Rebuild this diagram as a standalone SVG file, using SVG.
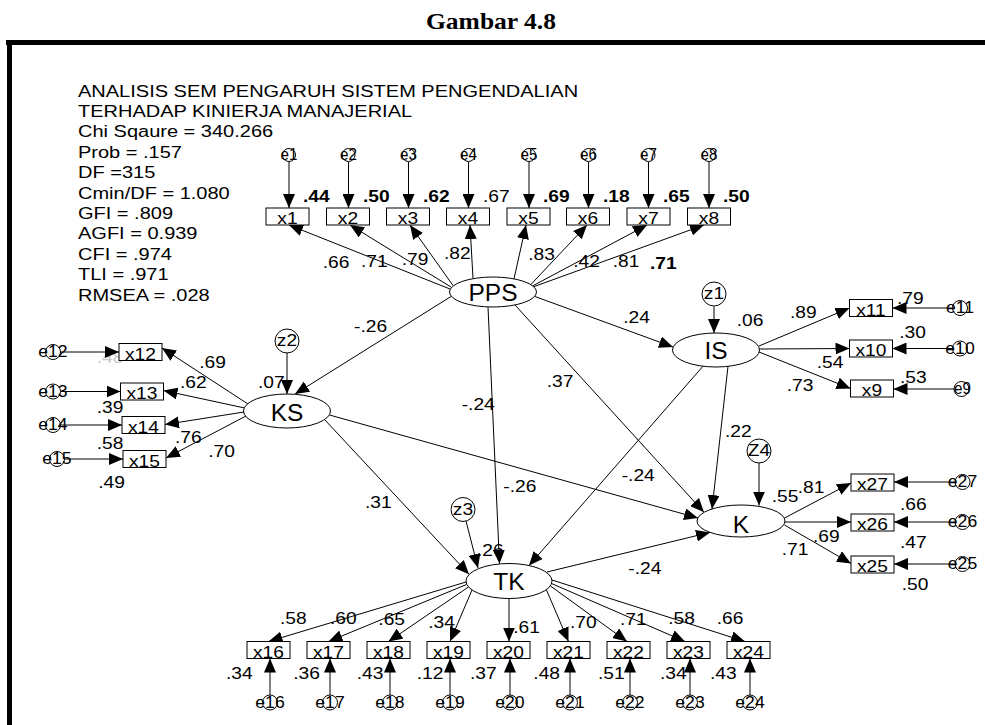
<svg xmlns="http://www.w3.org/2000/svg" width="985" height="725" viewBox="0 0 985 725">
<defs>
<marker id="ah" viewBox="0 0 14 12" refX="14" refY="6" markerWidth="14" markerHeight="12" orient="auto" markerUnits="userSpaceOnUse"><path d="M0,0 L14,6 L0,12 Z" fill="#000"/></marker>
<style>
text{font-family:"Liberation Sans",Arial,sans-serif;font-size:16px;fill:#000}
.l{transform-box:fill-box;transform-origin:left center;transform:scaleX(1.2)}
.c{text-anchor:middle;transform-box:fill-box;transform-origin:center;transform:scaleX(1.2)}
.ec{text-anchor:middle;transform-box:fill-box;transform-origin:center;transform:scaleX(0.95)}
.ec2{text-anchor:middle;transform-box:fill-box;transform-origin:center;transform:scaleX(1.1)}
.st{transform-box:fill-box;transform-origin:left center;transform:scaleX(1.25)}
.b{font-weight:bold}
.g{fill:#c8c8c8}
.nl{font-size:24.5px;text-anchor:middle}
.title{font-family:"Liberation Serif","Times New Roman",serif;font-size:24px;font-weight:bold;text-anchor:middle}
.cn line{stroke:#000;stroke-width:1;marker-end:url(#ah)}
ellipse,rect.v,circle{fill:#fff;stroke:#000;stroke-width:1}
</style>
</defs>
<rect width="985" height="725" fill="#fff"/>
<text class="title" x="491" y="29" textLength="130" lengthAdjust="spacingAndGlyphs">Gambar 4.8</text>
<path d="M6,42.5 H985 M9.5,40 V725" stroke="#000" stroke-width="5" fill="none"/>

<g id="stats">
<text class="st" x="78" y="96.7">ANALISIS SEM PENGARUH SISTEM PENGENDALIAN</text>
<text class="st" x="78" y="117.1">TERHADAP KINIERJA MANAJERIAL</text>
<text class="st" x="78" y="137.5">Chi Sqaure = 340.266</text>
<text class="st" x="78" y="157.9">Prob = .157</text>
<text class="st" x="78" y="178.3">DF =315</text>
<text class="st" x="78" y="198.7">Cmin/DF = 1.080</text>
<text class="st" x="78" y="219.1">GFI = .809</text>
<text class="st" x="78" y="239.5">AGFI = 0.939</text>
<text class="st" x="78" y="259.9">CFI = .974</text>
<text class="st" x="78" y="280.3">TLI = .971</text>
<text class="st" x="78" y="300.7">RMSEA = .028</text>
</g>

<g id="labels">
<text class="l b" x="303" y="202.5">.44</text>
<text class="l b" x="363" y="202.5">.50</text>
<text class="l b" x="423" y="202.5">.62</text>
<text class="l" x="483" y="202.5">.67</text>
<text class="l b" x="543" y="202.5">.69</text>
<text class="l b" x="603" y="202.5">.18</text>
<text class="l b" x="663" y="202.5">.65</text>
<text class="l b" x="723" y="202.5">.50</text>
<text class="l" x="322.7" y="268.3">.66</text>
<text class="l" x="361" y="267.3">.71</text>
<text class="l" x="401.7" y="265">.79</text>
<text class="l" x="444" y="259.3">.82</text>
<text class="l" x="528.3" y="260">.83</text>
<text class="l" x="573.3" y="267.3">.42</text>
<text class="l" x="612.7" y="267.3">.81</text>
<text class="l b" x="650" y="269.3">.71</text>
<text class="l" x="354" y="331.7">-.26</text>
<text class="l" x="623.3" y="322.7">.24</text>
<text class="l" x="546.7" y="387.3">.37</text>
<text class="l" x="461.7" y="410">-.24</text>
<text class="l" x="621.7" y="480.7">-.24</text>
<text class="l" x="503.3" y="492.3">-.26</text>
<text class="l" x="365" y="508.3">.31</text>
<text class="l" x="725" y="436.7">.22</text>
<text class="l" x="628.3" y="574">-.24</text>
<text class="l" x="736.7" y="325.7">.06</text>
<text class="l" x="258" y="388.3">.07</text>
<text class="l" x="477" y="556.5">.26</text>
<text class="l" x="771.7" y="501.7">.55</text>
<text class="l" x="790" y="318.3">.89</text>
<text class="l" x="897" y="304">.79</text>
<text class="l" x="899.3" y="338.3">.30</text>
<text class="l" x="816.7" y="368.3">.54</text>
<text class="l" x="786.7" y="390.7">.73</text>
<text class="l" x="900" y="382.7">.53</text>
<text class="l" x="199.3" y="367.7">.69</text>
<text class="l" x="180" y="388.3">.62</text>
<text class="l" x="96.7" y="412.7">.39</text>
<text class="l" x="96.7" y="449.3">.58</text>
<text class="l" x="175" y="443.3">.76</text>
<text class="l" x="208.3" y="456.7">.70</text>
<text class="l" x="98.3" y="488.3">.49</text>
<text class="l g" x="96.7" y="363.3">.48</text>
<text class="l" x="797.7" y="493.3">.81</text>
<text class="l" x="900" y="510">.66</text>
<text class="l" x="813" y="541.7">.69</text>
<text class="l" x="900" y="548.3">.47</text>
<text class="l" x="781.7" y="555">.71</text>
<text class="l" x="901.7" y="590">.50</text>
<text class="l" x="280" y="624">.58</text>
<text class="l" x="330" y="624">.60</text>
<text class="l" x="378.3" y="625">.65</text>
<text class="l" x="428.3" y="628.3">.34</text>
<text class="l" x="513.3" y="632.7">.61</text>
<text class="l" x="570" y="628.3">.70</text>
<text class="l" x="620" y="625">.71</text>
<text class="l" x="668.3" y="624">.58</text>
<text class="l" x="716.7" y="624">.66</text>
<text class="l" x="226" y="679.3">.34</text>
<text class="l" x="293.3" y="679.3">.36</text>
<text class="l" x="356.7" y="679.3">.43</text>
<text class="l" x="416.7" y="679.3">.12</text>
<text class="l" x="470" y="679.3">.37</text>
<text class="l" x="533.3" y="679.3">.48</text>
<text class="l" x="598" y="679.3">.51</text>
<text class="l" x="660" y="679.3">.34</text>
<text class="l" x="710" y="679.3">.43</text>
</g>

<g id="connectors" class="cn">
<line x1="289" y1="162" x2="289" y2="208"/>
<line x1="348.5" y1="162" x2="348.5" y2="208"/>
<line x1="408.5" y1="162" x2="408.5" y2="208"/>
<line x1="468.5" y1="162" x2="468.5" y2="208"/>
<line x1="529" y1="162" x2="529" y2="208"/>
<line x1="588.5" y1="162" x2="588.5" y2="208"/>
<line x1="648.5" y1="162" x2="648.5" y2="208"/>
<line x1="709" y1="162" x2="709" y2="208"/>
<line x1="450" y1="289" x2="289" y2="225"/>
<line x1="451" y1="287" x2="350" y2="225"/>
<line x1="453" y1="285.5" x2="410" y2="225"/>
<line x1="473" y1="278.5" x2="470" y2="225"/>
<line x1="514" y1="278.8" x2="526" y2="225"/>
<line x1="531" y1="284.4" x2="587" y2="225"/>
<line x1="533" y1="285.7" x2="647" y2="225"/>
<line x1="534" y1="286.6" x2="704" y2="225"/>
<line x1="451" y1="296.5" x2="295" y2="394"/>
<line x1="535" y1="296.5" x2="673" y2="347"/>
<line x1="488" y1="307" x2="499.5" y2="563.8"/>
<line x1="515" y1="305" x2="704" y2="512.3"/>
<line x1="728" y1="366.3" x2="712" y2="509"/>
<line x1="703" y1="366.2" x2="529" y2="565.5"/>
<line x1="324.5" y1="419.5" x2="469" y2="574.3"/>
<line x1="329.5" y1="415" x2="698" y2="518"/>
<line x1="547" y1="572" x2="710" y2="532.4"/>
<line x1="714" y1="306.5" x2="714" y2="333"/>
<line x1="287" y1="353" x2="287" y2="394"/>
<line x1="466" y1="521" x2="478" y2="568"/>
<line x1="759" y1="463" x2="759" y2="505.5"/>
<line x1="759" y1="346" x2="849.5" y2="308"/>
<line x1="759.5" y1="349" x2="849.5" y2="348.5"/>
<line x1="759" y1="352" x2="850.5" y2="388.5"/>
<line x1="952.5" y1="308" x2="892.5" y2="308"/>
<line x1="952.5" y1="348.5" x2="892.5" y2="348.5"/>
<line x1="954" y1="389" x2="893.5" y2="389"/>
<line x1="248" y1="404" x2="162" y2="348"/>
<line x1="244.7" y1="408" x2="163.5" y2="390.5"/>
<line x1="244" y1="412" x2="165" y2="424.5"/>
<line x1="246" y1="416" x2="166" y2="458"/>
<line x1="60.5" y1="352" x2="119" y2="352"/>
<line x1="60.5" y1="391.5" x2="120.5" y2="391.5"/>
<line x1="60.5" y1="425" x2="122" y2="425"/>
<line x1="64.5" y1="459" x2="123" y2="459"/>
<line x1="784.5" y1="518" x2="851" y2="483"/>
<line x1="785" y1="522" x2="851" y2="522"/>
<line x1="784.5" y1="525" x2="851" y2="563.5"/>
<line x1="955" y1="482" x2="894" y2="482"/>
<line x1="955" y1="522" x2="894" y2="522"/>
<line x1="955" y1="564" x2="894" y2="564"/>
<line x1="466" y1="582" x2="268.5" y2="641.5"/>
<line x1="466.5" y1="584.5" x2="328.5" y2="641.5"/>
<line x1="468.5" y1="587" x2="388.5" y2="641.5"/>
<line x1="472" y1="590" x2="450" y2="641.5"/>
<line x1="509" y1="598.5" x2="509" y2="641.5"/>
<line x1="546.5" y1="590" x2="568.5" y2="641.5"/>
<line x1="550.5" y1="586" x2="627" y2="641.5"/>
<line x1="551.5" y1="583.5" x2="685" y2="641.5"/>
<line x1="552" y1="580" x2="745" y2="641.5"/>
<line x1="270" y1="695" x2="270" y2="658.5"/>
<line x1="330" y1="695" x2="330" y2="658.5"/>
<line x1="390" y1="695" x2="390" y2="658.5"/>
<line x1="450" y1="695" x2="450" y2="658.5"/>
<line x1="510" y1="695" x2="510" y2="658.5"/>
<line x1="570" y1="695" x2="570" y2="658.5"/>
<line x1="630" y1="695" x2="630" y2="658.5"/>
<line x1="690" y1="695" x2="690" y2="658.5"/>
<line x1="750" y1="695" x2="750" y2="658.5"/>
</g>

<g id="PPS"><ellipse cx="493" cy="292" rx="43.5" ry="15"/><text class="nl" x="493" y="300.5">PPS</text></g>
<g id="IS"><ellipse cx="716" cy="350" rx="43.5" ry="17"/><text class="nl" x="716" y="359">IS</text></g>
<g id="KS"><ellipse cx="287" cy="411" rx="43.5" ry="17"/><text class="nl" x="287" y="421">KS</text></g>
<g id="K"><ellipse cx="741" cy="521" rx="44" ry="16"/><text class="nl" x="741" y="532.5">K</text></g>
<g id="TK"><ellipse cx="509" cy="581" rx="43" ry="17.5"/><text class="nl" x="509" y="590">TK</text></g>

<g id="z1"><circle cx="714" cy="294" r="12"/><text class="c" x="714" y="299.5">z1</text></g>
<g id="z2"><circle cx="287" cy="341" r="12"/><text class="c" x="287" y="346.5">z2</text></g>
<g id="z3"><circle cx="463" cy="509.5" r="12"/><text class="c" x="463" y="515">z3</text></g>
<g id="z4"><circle cx="759" cy="451" r="12"/><text class="c" x="759" y="456.5">Z4</text></g>

<g id="x1"><rect class="v" x="266" y="208" width="43" height="17"/><text class="c" x="287.5" y="224.5">x1</text></g>
<g id="x2"><rect class="v" x="326.5" y="208" width="43" height="17"/><text class="c" x="348" y="224.5">x2</text></g>
<g id="x3"><rect class="v" x="386.5" y="208" width="43" height="17"/><text class="c" x="408" y="224.5">x3</text></g>
<g id="x4"><rect class="v" x="446.5" y="208" width="43" height="17"/><text class="c" x="468" y="224.5">x4</text></g>
<g id="x5"><rect class="v" x="507" y="208" width="43" height="17"/><text class="c" x="528.5" y="224.5">x5</text></g>
<g id="x6"><rect class="v" x="566.5" y="208" width="43" height="17"/><text class="c" x="588" y="224.5">x6</text></g>
<g id="x7"><rect class="v" x="627" y="208" width="43" height="17"/><text class="c" x="648.5" y="224.5">x7</text></g>
<g id="x8"><rect class="v" x="687.5" y="208" width="43" height="17"/><text class="c" x="709" y="224.5">x8</text></g>
<g id="x11"><rect class="v" x="849.5" y="299.5" width="43" height="17"/><text class="c" x="871" y="316">x11</text></g>
<g id="x10"><rect class="v" x="849.5" y="340" width="43" height="17"/><text class="c" x="871" y="356.5">x10</text></g>
<g id="x9"><rect class="v" x="850.5" y="380" width="43" height="17"/><text class="c" x="872" y="396.5">x9</text></g>
<g id="x12"><rect class="v" x="119" y="343.5" width="43" height="17"/><text class="c" x="140.5" y="360">x12</text></g>
<g id="x13"><rect class="v" x="120.5" y="383" width="43" height="17"/><text class="c" x="142" y="399.5">x13</text></g>
<g id="x14"><rect class="v" x="122" y="416.5" width="43" height="17"/><text class="c" x="143.5" y="433">x14</text></g>
<g id="x15"><rect class="v" x="123" y="450.5" width="43" height="17"/><text class="c" x="144.5" y="467">x15</text></g>
<g id="x27"><rect class="v" x="851" y="474" width="43" height="17"/><text class="c" x="872.5" y="490.5">x27</text></g>
<g id="x26"><rect class="v" x="851" y="514" width="43" height="17"/><text class="c" x="872.5" y="530.5">x26</text></g>
<g id="x25"><rect class="v" x="851" y="556" width="43" height="17"/><text class="c" x="872.5" y="572.5">x25</text></g>
<g id="x16"><rect class="v" x="247" y="641.5" width="43" height="17"/><text class="c" x="268.5" y="658">x16</text></g>
<g id="x17"><rect class="v" x="307" y="641.5" width="43" height="17"/><text class="c" x="328.5" y="658">x17</text></g>
<g id="x18"><rect class="v" x="367" y="641.5" width="43" height="17"/><text class="c" x="388.5" y="658">x18</text></g>
<g id="x19"><rect class="v" x="427" y="641.5" width="43" height="17"/><text class="c" x="448.5" y="658">x19</text></g>
<g id="x20"><rect class="v" x="487" y="641.5" width="43" height="17"/><text class="c" x="508.5" y="658">x20</text></g>
<g id="x21"><rect class="v" x="547" y="641.5" width="43" height="17"/><text class="c" x="568.5" y="658">x21</text></g>
<g id="x22"><rect class="v" x="607" y="641.5" width="43" height="17"/><text class="c" x="628.5" y="658">x22</text></g>
<g id="x23"><rect class="v" x="667" y="641.5" width="43" height="17"/><text class="c" x="688.5" y="658">x23</text></g>
<g id="x24"><rect class="v" x="727" y="641.5" width="43" height="17"/><text class="c" x="748.5" y="658">x24</text></g>

<g id="e1"><circle cx="289" cy="155" r="6.5"/><text class="ec" x="289" y="160.5">e1</text></g>
<g id="e2"><circle cx="348.5" cy="155" r="6.5"/><text class="ec" x="348.5" y="160.5">e2</text></g>
<g id="e3"><circle cx="408.5" cy="155" r="6.5"/><text class="ec" x="408.5" y="160.5">e3</text></g>
<g id="e4"><circle cx="468.5" cy="155" r="6.5"/><text class="ec" x="468.5" y="160.5">e4</text></g>
<g id="e5"><circle cx="529" cy="155" r="6.5"/><text class="ec" x="529" y="160.5">e5</text></g>
<g id="e6"><circle cx="588.5" cy="155" r="6.5"/><text class="ec" x="588.5" y="160.5">e6</text></g>
<g id="e7"><circle cx="648.5" cy="155" r="6.5"/><text class="ec" x="648.5" y="160.5">e7</text></g>
<g id="e8"><circle cx="709" cy="155" r="6.5"/><text class="ec" x="709" y="160.5">e8</text></g>
<g id="e11"><circle cx="960" cy="308" r="7.5"/><text class="ec2" x="960" y="313.5">e11</text></g>
<g id="e10"><circle cx="960" cy="348.5" r="7.5"/><text class="ec2" x="960" y="354">e10</text></g>
<g id="e9"><circle cx="961.5" cy="389" r="7.5"/><text class="ec" x="962.5" y="394.5">e9</text></g>
<g id="e12"><circle cx="53" cy="352" r="7.5"/><text class="ec2" x="53" y="357.5">e12</text></g>
<g id="e13"><circle cx="53" cy="391.5" r="7.5"/><text class="ec2" x="53" y="397">e13</text></g>
<g id="e14"><circle cx="53" cy="425" r="7.5"/><text class="ec2" x="53" y="430.5">e14</text></g>
<g id="e15"><circle cx="57" cy="459" r="7.5"/><text class="ec2" x="57" y="464.5">e15</text></g>
<g id="e27"><circle cx="962.5" cy="482" r="7.5"/><text class="ec2" x="962.5" y="487.5">e27</text></g>
<g id="e26"><circle cx="962.5" cy="522" r="7.5"/><text class="ec2" x="962.5" y="527.5">e26</text></g>
<g id="e25"><circle cx="962.5" cy="564" r="7.5"/><text class="ec2" x="962.5" y="569.5">e25</text></g>
<g id="e16"><circle cx="270" cy="702.5" r="7.5"/><text class="ec2" x="270" y="708">e16</text></g>
<g id="e17"><circle cx="330" cy="702.5" r="7.5"/><text class="ec2" x="330" y="708">e17</text></g>
<g id="e18"><circle cx="390" cy="702.5" r="7.5"/><text class="ec2" x="390" y="708">e18</text></g>
<g id="e19"><circle cx="450" cy="702.5" r="7.5"/><text class="ec2" x="450" y="708">e19</text></g>
<g id="e20"><circle cx="510" cy="702.5" r="7.5"/><text class="ec2" x="510" y="708">e20</text></g>
<g id="e21"><circle cx="570" cy="702.5" r="7.5"/><text class="ec2" x="570" y="708">e21</text></g>
<g id="e22"><circle cx="630" cy="702.5" r="7.5"/><text class="ec2" x="630" y="708">e22</text></g>
<g id="e23"><circle cx="690" cy="702.5" r="7.5"/><text class="ec2" x="690" y="708">e23</text></g>
<g id="e24"><circle cx="750" cy="702.5" r="7.5"/><text class="ec2" x="750" y="708">e24</text></g>
</svg>
